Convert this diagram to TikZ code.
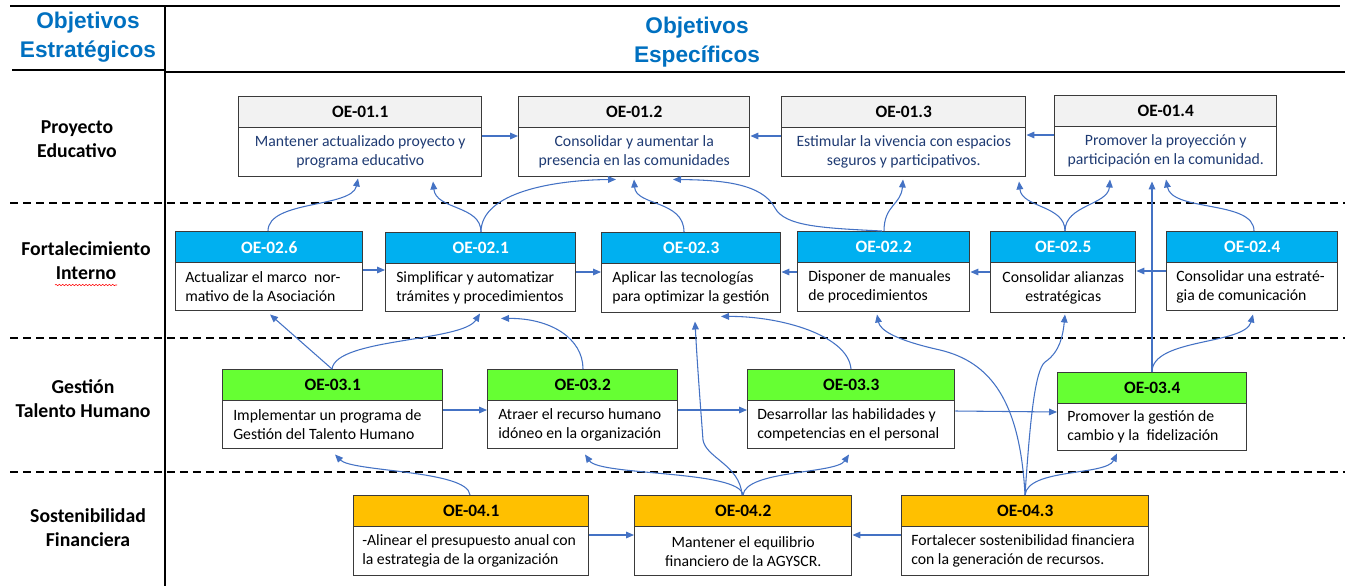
\documentclass[tikz,border=0pt]{standalone}
\usepackage{fontspec}
\setmainfont{Carlito}
\newfontfamily\ttlfont{Liberation Sans}
\usetikzlibrary{arrows.meta,calc,decorations.pathmorphing}
\definecolor{ttlblue}{HTML}{0070C0}
\definecolor{cnblue}{HTML}{4472C4}
\definecolor{navy}{HTML}{1F3B73}
\definecolor{bdr}{HTML}{3A3A3A}
\definecolor{hgray}{HTML}{F2F2F2}
\definecolor{hblue}{HTML}{00B0F0}
\definecolor{hgreen}{HTML}{66FF33}
\definecolor{horange}{HTML}{FFC000}
\newcommand{\oebox}[7]{%
  \pgfmathsetmacro\oeW{(#4-#2)*0.75}%
  \pgfmathsetmacro\oeH{(#5-#3-31)*0.75}%
  \node[hdr, #6, minimum width=\oeW pt, anchor=north west] (h#1) at (#2,#3) {#7};%
  \node[bdy, minimum width=\oeW pt, minimum height=\oeH pt, anchor=north west] (b#1) at (#2,#3+31) {};%
}
\begin{document}
\begin{tikzpicture}[x=0.75pt,y=-0.75pt,
  hdr/.style={draw=bdr, line width=1.1pt, minimum height=23.25pt, inner sep=0pt, font=\fontsize{13}{15}\selectfont\bfseries},
  bdy/.style={draw=bdr, line width=1.1pt, fill=white, inner sep=0pt},
  txt/.style={inner sep=0pt, font=\fontsize{11.8}{14.25}\selectfont},
  txtc/.style={txt, align=center},
  txtl/.style={txt, align=left, anchor=west},
  conn/.style={draw=cnblue, line width=0.8pt, -{Triangle[length=6pt,width=5pt]}},
  rowlab/.style={align=center, font=\fontsize{14.8}{18}\selectfont\bfseries, inner sep=0pt},
  ttl/.style={align=center, text=ttlblue, font=\ttlfont\fontsize{17}{21.75}\selectfont\bfseries, inner sep=0pt},
  rowsep/.style={line width=1.5pt, dash pattern=on 6pt off 3.8pt},
  hrule/.style={line width=1.5pt},
  gr/.style={fill=hgray},
  bl/.style={fill=hblue, text=white},
  gn/.style={fill=hgreen},
  og/.style={fill=horange}
]
\useasboundingbox (0,0) rectangle (1352,586);

% table rules
\draw[hrule] (10,6) -- (1340,6);
\draw[hrule] (12,70) -- (165,70);
\draw[hrule] (165,72) -- (1345,72);
\draw[hrule] (165,6) -- (165,586);
\draw[rowsep] (10,203) -- (1345,203);
\draw[rowsep] (10,338) -- (1345,338);
\draw[rowsep] (10,472) -- (1345,472);

% titles
\node[ttl] (ttlL) at (88,37) {Objetivos\\Estratégicos};
\node[ttl] (ttlR) at (697,42) {Objetivos\\Específicos};

% row labels
\node[rowlab] (r1) at (77,139) {Proyecto\\Educativo};
\node[rowlab] (r2) at (86,261) {Fortalecimiento\\Interno};
\node[rowlab] (r3) at (83,399) {Gestión\\Talento Humano};
\node[rowlab] (r4) at (88,528) {Sostenibilidad\\Financiera};
\draw[red, line width=0.4pt, decorate, decoration={snake, amplitude=0.5pt, segment length=2.5pt}] (55,285) -- (117,285);

% boxes
\oebox{11}{238}{96}{481}{176}{gr}{OE-01.1}
\oebox{12}{518}{96}{749}{176}{gr}{OE-01.2}
\oebox{13}{781}{96}{1025}{176}{gr}{OE-01.3}
\oebox{14}{1054}{95}{1276}{175}{gr}{OE-01.4}
\oebox{26}{175}{231}{362}{310}{bl}{OE-02.6}
\oebox{21}{385}{232}{575}{311}{bl}{OE-02.1}
\oebox{23}{601}{232}{780}{312}{bl}{OE-02.3}
\oebox{22}{797}{231}{969}{311}{bl}{OE-02.2}
\oebox{25}{990}{231}{1135}{312}{bl}{OE-02.5}
\oebox{24}{1166}{231}{1337}{310}{bl}{OE-02.4}
\oebox{31}{222}{369}{442}{448}{gn}{OE-03.1}
\oebox{32}{487}{369}{677}{448}{gn}{OE-03.2}
\oebox{33}{747}{369}{954}{448}{gn}{OE-03.3}
\oebox{34}{1057}{372}{1246}{450}{gn}{OE-03.4}
\oebox{41}{353}{495}{588}{575}{og}{OE-04.1}
\oebox{42}{634}{495}{851}{575}{og}{OE-04.2}
\oebox{43}{901}{495}{1148}{575}{og}{OE-04.3}

% texts
\node[txtc, text=navy] (t11) at (b11.center) {Mantener actualizado proyecto y\\programa educativo};
\node[txtc, text=navy] (t12) at (b12.center) {Consolidar y aumentar la\\presencia en las comunidades};
\node[txtc, text=navy] (t13) at (b13.center) {Estimular la vivencia con espacios\\seguros y participativos.};
\node[txtc, text=navy] (t14) at (b14.center) {Promover la proyección y\\participación en la comunidad.};
\node[txtl] (t26) at ($(b26.west)+(10,0)$) {Actualizar el marco\ \ nor-\\mativo de la Asociación};
\node[txtl] (t21) at ($(b21.west)+(11,0)$) {Simplificar y automatizar\\trámites y procedimientos};
\node[txtl] (t23) at ($(b23.west)+(11,0)$) {Aplicar las tecnologías\\para optimizar la gestión};
\node[txtl] (t22) at ($(b22.west)+(11,0)$) {Disponer de manuales\\de procedimientos};
\node[txtc] (t25) at (b25.center) {Consolidar alianzas\\estratégicas};
\node[txtl] (t24) at ($(b24.west)+(10,0)$) {Consolidar una estraté-\\gia de comunicación};
\node[txtl] (t31) at ($(b31.west)+(11,0)$) {Implementar un programa de\\Gestión del Talento Humano};
\node[txtl] (t32) at ($(b32.west)+(11,0)$) {Atraer el recurso humano\\idóneo en la organización};
\node[txtl] (t33) at ($(b33.west)+(10,0)$) {Desarrollar las habilidades y\\competencias en el personal};
\node[txtl] (t34) at ($(b34.west)+(10,0)$) {Promover la gestión de\\cambio y la\ \ fidelización};
\node[txtl] (t41) at ($(b41.west)+(9,0)$) {-Alinear el presupuesto anual con\\la estrategia de la organización};
\node[txtc] (t42) at (b42.center) {Mantener el equilibrio\\financiero de la AGYSCR.};
\node[txtl] (t43) at ($(b43.west)+(10,0)$) {Fortalecer sostenibilidad financiera\\con la generación de recursos.};

% horizontal connectors
\draw[conn] ($(b11.north east)+(0,9)$) -- ($(b12.north west)+(0,9)$);
\draw[conn] ($(b13.north west)+(0,9)$) -- ($(b12.north east)+(0,9)$);
\draw[conn] ($(b14.north west)+(0,9)$) -- ($(b13.north east)+(0,8)$);
\draw[conn] ($(b26.north east)+(0,8)$) -- ($(b21.north west)+(0,7)$);
\draw[conn] ($(b21.north east)+(0,9)$) -- ($(b23.north west)+(0,9)$);
\draw[conn] ($(b22.north west)+(0,10)$) -- ($(b23.north east)+(0,9)$);
\draw[conn] ($(b25.north west)+(0,10)$) -- ($(b22.north east)+(0,10)$);
\draw[conn] ($(b24.north west)+(0,9)$) -- ($(b25.north east)+(0,9)$);
\draw[conn] ($(b31.north east)+(0,10)$) -- ($(b32.north west)+(0,10)$);
\draw[conn] ($(b32.north east)+(0,10)$) -- ($(b33.north west)+(0,10)$);
\draw[conn] ($(b33.north east)+(0,11)$) -- ($(b34.north west)+(0,9)$);
\draw[conn] ($(b41.north east)+(0,9)$) -- ($(b42.north west)+(0,9)$);
\draw[conn] ($(b43.north west)+(0,9)$) -- ($(b42.north east)+(0,9)$);

% row 2 -> row 1
\draw[conn] ($(h26.north west)+(93,0)$) .. controls (268,200) and (352,208) .. ($(b11.south west)+(120,1)$);
\draw[conn] ($(h21.north west)+(96,0)$) .. controls (481,205) and (436,210) .. ($(b11.south west)+(195,4)$);
\draw[conn] ($(h21.north west)+(96,0)$) .. controls (481,192) and (555,180) .. ($(b12.south west)+(98,2)$);
\draw[conn] ($(h23.north west)+(83,0)$) .. controls (684,200) and (636,206) .. ($(b12.south west)+(116,2)$);
\draw[conn] ($(h22.north west)+(85,0)$) .. controls (820,228) and (785,226) .. (775,208) .. controls (762,183) and (720,180) .. ($(b12.south west)+(155,2)$);
\draw[conn] ($(h22.north west)+(87,0)$) .. controls (884,205) and (901,205) .. ($(b13.south west)+(122,2)$);
\draw[conn] ($(h25.north west)+(75,0)$) .. controls (1065,205) and (1022,208) .. ($(b13.south west)+(238,4)$);
\draw[conn] ($(h25.north west)+(75,0)$) .. controls (1065,205) and (1108,205) .. ($(b14.south west)+(56,3)$);
\draw[conn] ($(h34.north west)+(95,0)$) -- ($(b14.south west)+(98,5)$);
\draw[conn] ($(h24.north west)+(88,0)$) .. controls (1254,200) and (1172,212) .. ($(b14.south west)+(112,3)$);

% row 3 -> row 2
\draw[conn] ($(h31.north west)+(110,0)$) -- ($(b26.south west)+(95,3)$);
\draw[conn] ($(h31.north west)+(110,0)$) .. controls (336,338) and (462,342) .. ($(b21.south west)+(95,1)$);
\draw[conn] ($(h32.north west)+(96,0)$) .. controls (583,338) and (550,318) .. ($(b21.south west)+(116,6)$);
\draw[conn] ($(h42.north west)+(108,0)$) .. controls (740,465) and (706,458) .. (703,440) .. controls (700,400) and (697,360) .. ($(b23.south west)+(94,8)$);
\draw[conn] ($(h33.north west)+(104,0)$) .. controls (848,335) and (780,316) .. ($(b23.south west)+(120,3)$);
\draw[conn] ($(h43.north west)+(124,0)$) .. controls (1020,400) and (990,362) .. (940,350) .. controls (895,340) and (880,330) .. ($(b22.south west)+(80,2)$);
\draw[conn] ($(h43.north west)+(124,0)$) .. controls (1030,420) and (1035,370) .. (1045,362) .. controls (1060,352) and (1063,335) .. ($(b25.south west)+(75,1)$);
\draw[conn] ($(h34.north west)+(95,0)$) .. controls (1152,338) and (1245,345) .. ($(b24.south west)+(87,3)$);

% row 4 -> row 3
\draw[conn] ($(h41.north west)+(117,0)$) .. controls (468,470) and (352,472) .. ($(b31.south west)+(113,5)$);
\draw[conn] ($(h42.north west)+(109,0)$) .. controls (740,470) and (600,476) .. ($(b32.south west)+(98,5)$);
\draw[conn] ($(h42.north west)+(109,0)$) .. controls (746,470) and (836,474) .. ($(b33.south west)+(102,5)$);
\draw[conn] ($(h43.north west)+(124,0)$) .. controls (1028,468) and (1106,476) .. ($(b34.south west)+(60,2)$);
\end{tikzpicture}
\end{document}
